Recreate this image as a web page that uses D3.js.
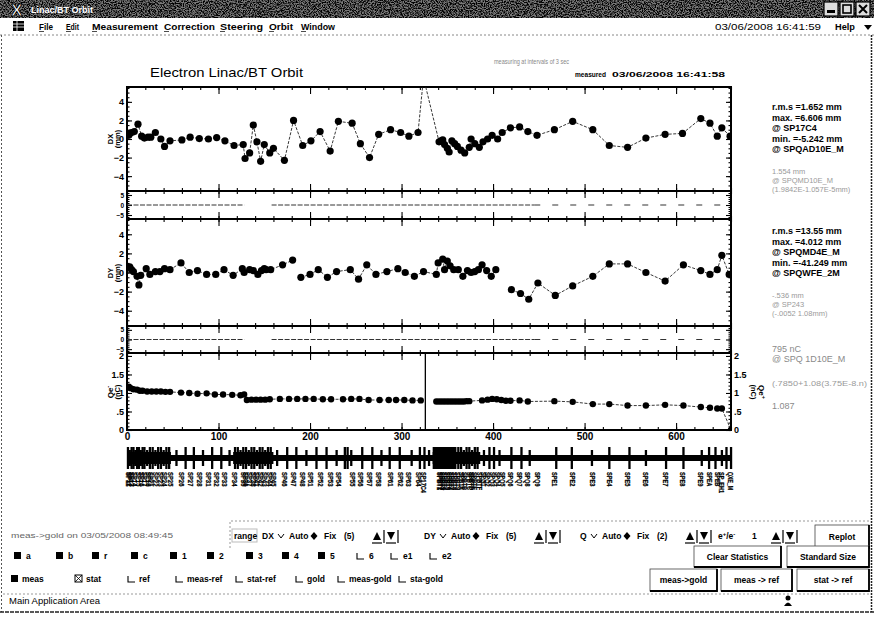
<!DOCTYPE html>
<html>
<head>
<meta charset="utf-8">
<script src="https://cdn.jsdelivr.net/npm/d3@7"></script>
<style>
  body { margin: 0; background: #fff; }
  svg { display: block; font-family: "Liberation Sans", Arial, Helvetica, sans-serif; }
</style>
</head>
<body>
<svg id="app" width="874" height="619"></svg>
<script>
// ---------- measured orbit data (s position along the line [m], value) ----------
const dxPoints = [
  [2,0.4],[3,0.6],[5,0.7],[8,0.8],[12,1.6],[16,0.3],[19,0.1],[23,0.2],[26,0.2],[31,0.7],
  [37,0.0],[41,-0.8],[47,-0.2],[60,-0.1],[69,0.2],[79,0.05],[89,0.0],[98,0.15],[107,-0.2],[117,-0.7],
  [127,-0.6],[129,-2.1],[134,-1.5],[138,1.5],[142,-0.3],[146,-2.4],[150,-0.6],[156,-1.5],[160,-1.0],[172,-2.3],
  [182,2.0],[192,-0.7],[201,-0.2],[211,0.8],[222,-1.3],[231,1.9],[246,1.7],[255,-0.5],[265,-2.0],[275,0.5],
  [288,1.0],[299,0.7],[308,0.3],[318,0.7],[324,6.606],[341,-0.3],[343,-0.2],[345,-0.1],[347,-0.6],[350,-1.0],
  [352,-1.4],[355,-0.2],[358,-0.5],[361,-0.8],[365,-1.2],[369,-1.5],[374,-0.9],[376,0.0],[380,-0.5],[385,-0.9],
  [389,-0.3],[394,0.0],[399,0.4],[405,0.0],[410,0.7],[419,1.2],[429,1.3],[438,0.8],[448,0.4],[467,1.0],
  [487,1.9],[509,1.0],[527,-0.7],[547,-0.9],[567,0.1],[588,0.5],[607,0.6],[627,2.2],[637,1.7],[645,0.3],
  [650,1.2],[659,0.3]
];
const dyPoints = [
  [3,0.6],[5,0.3],[7,0.1],[11,-0.4],[13,-1.3],[15,-0.3],[21,0.4],[25,-0.2],[31,0.1],[36,0.1],
  [41,0.4],[47,0.3],[59,1.0],[68,0.0],[77,0.2],[87,-0.2],[97,-0.2],[106,0.3],[116,-0.3],[126,0.4],
  [128,0.0],[134,0.3],[138,0.2],[143,-0.2],[147,0.2],[150,0.4],[152,0.3],[157,0.3],[170,0.8],[181,1.3],
  [185,null],
  [190,-0.5],[200,-0.2],[209,0.3],[219,-0.5],[229,0.1],[244,0.3],[253,-0.7],[262,0.8],[272,-0.2],[284,0.1],
  [296,0.4],[304,0.0],[314,-0.4],[324,0.1],[338,-0.2],[340,1.0],[345,1.4],[347,0.3],[350,1.2],[353,0.7],
  [357,0.3],[362,0.3],[367,-0.4],[372,0.2],[376,0.0],[380,0.1],[384,0.3],[388,0.8],[393,0.2],[398,-0.4],
  [403,0.3],
  [414,null],
  [420,-1.8],[430,-2.2],[439,-2.8],[449,-1.1],[468,-2.4],[487,-1.4],[509,-0.4],[527,0.9],[547,0.9],[567,0.0],
  [588,-0.9],[608,0.8],[627,0.2],[637,-0.2],[645,0.3],[650,1.8],[658,-0.2]
];
const qPoints = [
  [2,1.17],[4,1.13],[7,1.10],[11,1.09],[14,1.06],[17,1.06],[22,1.04],[27,1.04],[32,1.04],[37,1.04],
  [42,1.03],[47,1.03],[59,1.01],[68,1.00],[77,0.98],[87,0.99],[96,0.96],[105,0.96],[115,0.95],[124,0.94],
  [128,0.96],[131,0.81],[136,0.82],[141,0.82],[146,0.82],[151,0.82],[156,0.83],[167,0.84],[177,0.84],[186,0.84],
  [195,0.84],[204,0.84],[214,0.83],[223,0.83],[236,0.83],[245,0.84],[254,0.84],[264,0.81],[276,0.81],[286,0.81],
  [294,0.81],[303,0.81],[312,0.80],[321,0.80],
  [330,null],
  [338,0.77],[341,0.77],[344,0.77],[347,0.77],[350,0.77],[353,0.77],[356,0.77],[359,0.77],[362,0.77],[365,0.77],
  [368,0.77],[371,0.78],[374,0.78],[388,0.80],[394,0.82],[399,0.84],[404,0.83],[409,0.81],[414,0.79],[419,0.79],
  [429,0.80],[438,0.77],[467,0.78],[487,0.76],[509,0.70],[527,0.70],[547,0.66],[567,0.66],[588,0.68],[608,0.66],
  [627,0.62],[637,0.60],[645,0.58],[650,0.58],[660,0.0]
];
const qSplitS = 326;           // boundary between linac and BT transport line

// ---------- lattice ----------
const magnetS = [1,3,5,7,9,11,13,15,17,19,22,25,28,31,34,37,40,43,46,54,64,73,83,93,103,112,
  118,121,124,127,130,133,136,139,142,145,148,151,154,157,164,175,185,196,207,218,229,238,241,245,
  257,268,278,287,298,311,320,325,330,362,365,368,371,374,377,380,383,390,396,401,407,420,431,440,
  469,486,508,527,549,567,589,608,628,636,643,650,655,660];
const denseSections = [[0,48],[116,160],[334,386]];
const solidSections = [[334,360]];
const monitorNames = ("SP11 SP12 SP13 SP14 SP15 SP16 SP17 SP18 SP21 SP22 SP23 SP24 SP25 SP26 SP27 SP28 " +
  "SP31 SP32 SP33 SP34 SP35 SP36 SP37 SP38 SP41 SP42 SP43 SP44 SP45 SP46 SP47 SP48 SP51 SP52 SP53 " +
  "SP54 SP55 SP56 SP57 SP58 SP61 SP62 SP63 SP64 SP17C4 SPBT1 SPBT2 SPBT3 SPBT4 SPBT5 SPBT6 SPBT7 " +
  "SPBT8 SPBT9 SPBTA SPBTB SPBTC SPBTD SPBTE SPBTF SPQ1 SPQ2 SPQ3 SPQ4 SPQ5 SPQ6 SPQ7 SPQ8 SPQ9 " +
  "SPE1 SPE2 SPE3 SPE4 SPE5 SPE6 SPE7 SPE8 SPE9 SPEA SPEB SP_EH1 QXE_M").split(" ");

// difference strips (zero line drawn in dashes)
const diffDense = [[0,128],[158,445]];
const diffSparse = [[445,656]];

// ---------- tick labels & texts ----------
const sTicks = [0,100,200,300,400,500,600];
const orbitTicks = [-4,-2,0,2,4];
const diffTicks = [-5,0,5];
const qTicks = [0,0.5,1,1.5,2];
const dxStats = ["r.m.s =1.652 mm","max. =6.606 mm","@ SP17C4","min. =-5.242 mm","@ SPQAD10E_M"];
const dxNote  = ["1.554 mm","@ SPQMD10E_M","(1.9842E-1.057E-5mm)"];
const dyStats = ["r.m.s =13.55 mm","max. =4.012 mm","@ SPQMD4E_M","min. =-41.249 mm","@ SPQWFE_2M"];
const dyNote  = ["-.536 mm","@ SP243","(-.0052 1.08mm)"];
const qNote   = ["795 nC","@ SPQ 1D10E_M"];
const qFit    = "(.7850+1.08(3.75E-8.n)";
const qRatio  = "1.087";
const menuItems = [["File",39,14],["Edit",66,13],["Measurement",92,66],["Correction",164,51],
                   ["Steering",220,43],["Orbit",269,24],["Window",301,34]];

// ---------------------------------------------------------------------------
const svg = d3.select("#app");
const W = 874, H = 619;
svg.append("rect").attr("width", W).attr("height", H).attr("fill", "#fff");

const defs = svg.append("defs");
const grain = defs.append("filter").attr("id", "grain").attr("x", 0).attr("y", 0)
  .attr("width", "100%").attr("height", "100%")
  .attr("color-interpolation-filters", "sRGB");
grain.append("feTurbulence").attr("type", "fractalNoise").attr("baseFrequency", "0.85")
  .attr("numOctaves", 2).attr("seed", 7).attr("result", "n");
grain.append("feColorMatrix").attr("type", "matrix")
  .attr("values", "0 0 0 0 0  0 0 0 0 0  0 0 0 0 0  4 0 0 0 -1.55");

function txt(g, x, y, t, o = {}) {
  return g.append("text").attr("x", x).attr("y", y).text(t)
    .attr("font-size", o.size || 8.5)
    .attr("font-weight", o.weight || "bold")
    .attr("fill", o.fill || "#000")
    .attr("text-anchor", o.anchor || "start")
    .attr("font-family", o.family || null);
}

// ---------- window title bar ----------
svg.append("rect").attr("x", 0).attr("y", 0).attr("width", W).attr("height", 18).attr("fill", "#7a7a7a");
svg.append("rect").attr("x", 0).attr("y", 0).attr("width", W).attr("height", 18).attr("filter", "url(#grain)");
svg.append("text").attr("x", 11).attr("y", 16).text("X").attr("font-size", 17).attr("font-weight", "bold")
  .attr("fill", "#fff").attr("stroke", "#000").attr("stroke-width", 0.8);
txt(svg, 31, 13, "Linac/BT Orbit", { size: 9, fill: "#fff" });
[824, 840, 856].forEach((bx, i) => {
  svg.append("rect").attr("x", bx).attr("y", 2).attr("width", 14).attr("height", 14)
    .attr("fill", "#ddd").attr("stroke", "#000").attr("stroke-width", 1.2);
  if (i === 0) svg.append("rect").attr("x", bx + 3).attr("y", 10).attr("width", 8).attr("height", 3).attr("fill", "#000");
  if (i === 1) svg.append("rect").attr("x", bx + 3).attr("y", 5).attr("width", 8).attr("height", 8)
    .attr("fill", "none").attr("stroke", "#000").attr("stroke-width", 1.6);
  if (i === 2) svg.append("path").attr("d", `M${bx+3},5 L${bx+11},13 M${bx+11},5 L${bx+3},13`)
    .attr("stroke", "#000").attr("stroke-width", 2);
});

// ---------- menu bar ----------
const ic = svg.append("g");
ic.append("rect").attr("x", 13).attr("y", 21).attr("width", 11).attr("height", 10).attr("fill", "#000");
[24, 27].forEach(yy => ic.append("line").attr("x1", 13).attr("x2", 24).attr("y1", yy).attr("y2", yy).attr("stroke", "#fff").attr("stroke-width", 0.8));
ic.append("line").attr("x1", 17).attr("x2", 17).attr("y1", 21).attr("y2", 31).attr("stroke", "#fff").attr("stroke-width", 0.8);
menuItems.forEach(([name, mx, mw]) => {
  txt(svg, mx, 30, name, { size: 9.5 }).attr("textLength", mw).attr("lengthAdjust", "spacingAndGlyphs");
  svg.append("line").attr("x1", mx).attr("x2", mx + 5).attr("y1", 31.5).attr("y2", 31.5).attr("stroke", "#000").attr("stroke-width", 0.7);
});
txt(svg, 715, 30, "03/06/2008 16:41:59", { size: 9.5, weight: "normal" }).attr("textLength", 106).attr("lengthAdjust", "spacingAndGlyphs");
txt(svg, 835, 30, "Help", { size: 9.5 }).attr("textLength", 20).attr("lengthAdjust", "spacingAndGlyphs");
svg.append("path").attr("d", "M864,25 L872,25 L868,30 Z").attr("fill", "#000");
svg.append("line").attr("x1", 0).attr("x2", W).attr("y1", 35).attr("y2", 35)
  .attr("stroke", "#888").attr("stroke-dasharray", "2,2");

// window borders
svg.append("line").attr("x1", 1.5).attr("x2", 1.5).attr("y1", 35).attr("y2", 612)
  .attr("stroke", "#555").attr("stroke-dasharray", "2,2");
svg.append("line").attr("x1", 871.5).attr("x2", 871.5).attr("y1", 35).attr("y2", 612)
  .attr("stroke", "#222").attr("stroke-width", 1.5).attr("stroke-dasharray", "2,1");

// ---------- chart header ----------
txt(svg, 150, 77, "Electron Linac/BT  Orbit", { size: 13.5, weight: "normal" })
  .attr("textLength", 153).attr("lengthAdjust", "spacingAndGlyphs");
txt(svg, 494, 64, "measuring at intervals of 3 sec", { size: 7, weight: "normal", fill: "#888" })
  .attr("textLength", 75).attr("lengthAdjust", "spacingAndGlyphs");
txt(svg, 575, 77, "measured", { size: 8 }).attr("textLength", 31).attr("lengthAdjust", "spacingAndGlyphs");
txt(svg, 612, 77, "03/06/2008 16:41:58", { size: 8 }).attr("textLength", 113).attr("lengthAdjust", "spacingAndGlyphs");

// ---------- plots ----------
const X0 = 127, X1 = 731;
const x = d3.scaleLinear().domain([0, 660]).range([X0, X1]);
const sMinor = d3.range(0, 661, 20);

const panels = {
  dx:  { y0: 87,  y1: 191, y: d3.scaleLinear().domain([-5.6, 5.6]).range([191, 87]) },
  d1:  { y0: 191, y1: 219, y: d3.scaleLinear().domain([-7, 7]).range([219, 191]) },
  dy:  { y0: 219, y1: 326, y: d3.scaleLinear().domain([-5.6, 5.6]).range([326, 219]) },
  d2:  { y0: 326, y1: 353, y: d3.scaleLinear().domain([-7, 7]).range([353, 326]) },
  q:   { y0: 353, y1: 430, y: d3.scaleLinear().domain([0, 2.08]).range([430, 353]) }
};

function frame(p, majors, minors, fmt, labelSize, rightLabels) {
  const g = svg.append("g");
  const noLabel = () => "";
  // top & bottom edge ticks, pointing inward
  g.append("g").attr("transform", `translate(0,${p.y0})`)
    .call(d3.axisTop(x).tickValues(sMinor).tickSize(-3).tickFormat(noLabel));
  g.append("g").attr("transform", `translate(0,${p.y0})`)
    .call(d3.axisTop(x).tickValues(sTicks).tickSize(-7).tickFormat(noLabel));
  g.append("g").attr("transform", `translate(0,${p.y1})`)
    .call(d3.axisBottom(x).tickValues(sMinor).tickSize(-3).tickFormat(noLabel));
  g.append("g").attr("transform", `translate(0,${p.y1})`)
    .call(d3.axisBottom(x).tickValues(sTicks).tickSize(-7).tickFormat(noLabel));
  // left & right edge ticks
  g.append("g").attr("transform", `translate(${X0},0)`)
    .call(d3.axisLeft(p.y).tickValues(minors).tickSize(-2.5).tickFormat(noLabel));
  g.append("g").attr("transform", `translate(${X0},0)`).attr("class", "lab")
    .call(d3.axisLeft(p.y).tickValues(majors).tickSize(-5).tickPadding(3).tickFormat(fmt));
  g.append("g").attr("transform", `translate(${X1},0)`)
    .call(d3.axisRight(p.y).tickValues(minors).tickSize(-2.5).tickFormat(noLabel));
  g.append("g").attr("transform", `translate(${X1},0)`).attr("class", rightLabels ? "lab" : "")
    .call(d3.axisRight(p.y).tickValues(majors).tickSize(-5).tickPadding(3)
      .tickFormat(rightLabels ? fmt : noLabel));
  g.selectAll(".domain").remove();
  g.selectAll("line").attr("stroke", "#000").attr("stroke-width", 1.1);
  g.selectAll(".lab text").attr("font-size", labelSize).attr("font-weight", "bold")
    .attr("font-family", "Liberation Sans, Arial, sans-serif").attr("fill", "#000");
  g.append("rect").attr("x", X0).attr("y", p.y0).attr("width", X1 - X0).attr("height", p.y1 - p.y0)
    .attr("fill", "none").attr("stroke", "#000").attr("stroke-width", 2);
  return g;
}

const orbitMinor = d3.range(-5.5, 5.51, 0.5);
frame(panels.dx, orbitTicks, orbitMinor, d3.format("d"), 9);
frame(panels.d1, diffTicks, d3.range(-6, 6.1, 1), d3.format("d"), 6.5);
frame(panels.dy, orbitTicks, orbitMinor, d3.format("d"), 9);
frame(panels.d2, diffTicks, d3.range(-6, 6.1, 1), d3.format("d"), 6.5);
const qFmt = d => d === 0.5 ? ".5" : String(d);
frame(panels.q, qTicks, d3.range(0, 2.01, 0.1), qFmt, 9, true);

// x axis labels under the charge plot
const xa = svg.append("g").attr("transform", `translate(0,${panels.q.y1})`)
  .call(d3.axisBottom(x).tickValues(sTicks).tickSize(0).tickPadding(3));
xa.select(".domain").remove();
xa.selectAll("text").attr("font-size", 10).attr("font-weight", "bold")
  .attr("font-family", "Liberation Sans, Arial, sans-serif").attr("fill", "#000");

// axis titles
function vtitle(tx, cy, t, rot) {
  svg.append("text").attr("transform", `translate(${tx},${cy}) rotate(${rot})`)
    .attr("text-anchor", "middle").attr("font-size", 7.5).attr("font-weight", "bold").text(t);
}
vtitle(113, 139, "DX", -90); vtitle(120, 139, "(mm)", -90);
vtitle(113, 273, "DY", -90); vtitle(120, 273, "(mm)", -90);
svg.append("text").attr("transform", "translate(113,392) rotate(-90)").attr("text-anchor", "middle")
  .attr("font-size", 8).attr("font-weight", "bold").html('Qe<tspan dy="-3" font-size="6">-</tspan>');
vtitle(120, 392, "(nC)", -90);
vtitle(751, 392, "(nC)", 90);
svg.append("text").attr("transform", "translate(759,392) rotate(90)").attr("text-anchor", "middle")
  .attr("font-size", 8).attr("font-weight", "bold").html('Qe<tspan dy="-3" font-size="6">+</tspan>');

// clip paths and data series
function series(key, pts, r) {
  const p = panels[key];
  defs.append("clipPath").attr("id", "clip-" + key).append("rect")
    .attr("x", X0).attr("y", p.y0).attr("width", X1 - X0).attr("height", p.y1 - p.y0);
  const g = svg.append("g").attr("clip-path", `url(#clip-${key})`);
  const line = d3.line().defined(d => d[1] !== null).x(d => x(d[0])).y(d => p.y(d[1]));
  g.append("path").attr("d", line(pts)).attr("fill", "none").attr("stroke", "#222")
    .attr("stroke-width", 0.9).attr("stroke-dasharray", "3,1.5");
  g.selectAll("circle").data(pts.filter(d => d[1] !== null)).join("circle")
    .attr("cx", d => x(d[0])).attr("cy", d => p.y(d[1])).attr("r", r).attr("fill", "#000");
  return g;
}
series("dx", dxPoints, 3.6);
series("dy", dyPoints, 3.6);
const qg = series("q", qPoints, 3.2);
qg.append("line").attr("x1", x(qSplitS)).attr("x2", x(qSplitS))
  .attr("y1", panels.q.y0).attr("y2", panels.q.y1).attr("stroke", "#000").attr("stroke-width", 1.3);

// difference strips: zero lines
["d1", "d2"].forEach(key => {
  const p = panels[key];
  diffDense.forEach(([a, b]) => svg.append("line").attr("x1", x(a)).attr("x2", x(b))
    .attr("y1", p.y(0)).attr("y2", p.y(0)).attr("stroke", "#333").attr("stroke-width", 1)
    .attr("stroke-dasharray", "5,1.5"));
  diffSparse.forEach(([a, b]) => svg.append("line").attr("x1", x(a)).attr("x2", x(b))
    .attr("y1", p.y(0)).attr("y2", p.y(0)).attr("stroke", "#333").attr("stroke-width", 1.2)
    .attr("stroke-dasharray", "6,12"));
});

// ---------- right-hand statistics ----------
function block(lines, y0, step, o) {
  lines.forEach((t, i) => txt(svg, 772, y0 + i * step, t, o));
}
block(dxStats, 110, 10.6, { size: 9 });
block(dxNote, 174, 9.2, { size: 7.5, weight: "normal", fill: "#9a9a9a" });
block(dyStats, 234, 10.6, { size: 9 });
block(dyNote, 298, 9.2, { size: 7.5, weight: "normal", fill: "#9a9a9a" });
block(qNote, 352, 10, { size: 9, weight: "normal", fill: "#8a8a8a" });
txt(svg, 772, 386, qFit, { size: 7.5, weight: "normal", fill: "#9a9a9a" }).attr("textLength", 95).attr("lengthAdjust", "spacingAndGlyphs");
txt(svg, 772, 409, qRatio, { size: 9, weight: "normal", fill: "#8a8a8a" });

// ---------- lattice strip ----------
const LY = 458;
const lat = svg.append("g");
lat.append("rect").attr("x", X0).attr("y", LY - 3).attr("width", X1 - X0).attr("height", 6).attr("fill", "#000");
denseSections.forEach(([a, b]) => lat.append("rect").attr("x", x(a)).attr("y", LY - 6)
  .attr("width", x(b) - x(a)).attr("height", 12).attr("fill", "#000"));
solidSections.forEach(([a, b]) => lat.append("rect").attr("x", x(a)).attr("y", LY - 11)
  .attr("width", x(b) - x(a)).attr("height", 22).attr("fill", "#000"));
lat.selectAll(".mag").data(magnetS).join("rect").attr("class", "mag")
  .attr("x", d => x(d) - 1.1).attr("y", (d, i) => LY - (i % 3 === 1 ? 8 : 11))
  .attr("width", 2.3).attr("height", (d, i) => i % 3 === 1 ? 16 : 22).attr("fill", "#000");
lat.selectAll(".nm").data(dxPoints).join("text").attr("class", "nm")
  .attr("transform", d => `translate(${x(d[0])},472) rotate(90)`)
  .attr("dy", "0.35em").attr("font-size", 7).attr("font-weight", "bold")
  .attr("stroke", "#000").attr("stroke-width", 0.25)
  .text((d, i) => monitorNames[i] || "")
  .attr("textLength", (d, i) => Math.min((monitorNames[i] || "").length * 3.6, 21))
  .attr("lengthAdjust", "spacingAndGlyphs");

// ---------- control panel ----------
const ui = svg.append("g");
ui.append("path").attr("d", "M230,548 V521 H870").attr("fill", "none")
  .attr("stroke", "#999").attr("stroke-dasharray", "2,2");
txt(ui, 11, 538, "meas->gold on 03/05/2008 08:49:45", { size: 8, weight: "normal", fill: "#666" })
  .attr("textLength", 162).attr("lengthAdjust", "spacingAndGlyphs");

function button(x0, y0, x1, y1, t) {
  ui.append("rect").attr("x", x0).attr("y", y0).attr("width", x1 - x0).attr("height", y1 - y0)
    .attr("fill", "#fff").attr("stroke", "#444").attr("stroke-width", 0.8);
  ui.append("path").attr("d", `M${x0},${y1} H${x1} V${y0}`).attr("fill", "none")
    .attr("stroke", "#000").attr("stroke-width", 1.8);
  txt(ui, (x0 + x1) / 2, (y0 + y1) / 2 + 3, t, { size: 8.5, anchor: "middle" });
}
function check(cx, cy, kind) {
  if (kind === "on") {
    ui.append("rect").attr("x", cx).attr("y", cy - 6).attr("width", 7).attr("height", 7).attr("fill", "#000");
  } else if (kind === "x") {
    ui.append("rect").attr("x", cx).attr("y", cy - 6).attr("width", 7).attr("height", 7)
      .attr("fill", "none").attr("stroke", "#000");
    ui.append("path").attr("d", `M${cx},${cy-6} L${cx+7},${cy+1} M${cx+7},${cy-6} L${cx},${cy+1}`)
      .attr("stroke", "#000").attr("stroke-width", 0.8);
  } else {
    ui.append("path").attr("d", `M${cx},${cy-5} V${cy+1} H${cx+7}`).attr("fill", "none")
      .attr("stroke", "#000").attr("stroke-width", 1.1);
  }
}
function tick(cx, cy) {
  ui.append("path").attr("d", `M${cx},${cy-4} L${cx+3},${cy} L${cx+6},${cy-4}`).attr("fill", "none")
    .attr("stroke", "#000").attr("stroke-width", 1);
}
function diamond(cx, cy) {
  ui.append("path").attr("d", `M${cx},${cy-7} L${cx+3.5},${cy-3} L${cx},${cy+1} L${cx-3.5},${cy-3} Z`).attr("fill", "#000");
}
function arrows(cx, cy) {
  ui.append("path").attr("d", `M${cx-4},${cy+1} L${cx+4},${cy+1} L${cx},${cy-7} Z`).attr("fill", "#000");
  ui.append("line").attr("x1", cx - 5).attr("x2", cx + 5).attr("y1", cy + 4).attr("y2", cy + 4).attr("stroke", "#000").attr("stroke-width", 1.2);
  ui.append("line").attr("x1", cx + 7).attr("x2", cx + 7).attr("y1", cy - 9).attr("y2", cy + 4).attr("stroke", "#000").attr("stroke-width", 1.2);
  ui.append("path").attr("d", `M${cx+10},${cy-7} L${cx+18},${cy-7} L${cx+14},${cy+1} Z`).attr("fill", "#000");
  ui.append("line").attr("x1", cx + 9).attr("x2", cx + 19).attr("y1", cy + 4).attr("y2", cy + 4).attr("stroke", "#000").attr("stroke-width", 1.2);
  ui.append("line").attr("x1", cx + 21).attr("x2", cx + 21).attr("y1", cy - 9).attr("y2", cy + 4).attr("stroke", "#000").attr("stroke-width", 1.2);
}
const R1 = 539;
ui.append("rect").attr("x", 232).attr("y", 529).attr("width", 25).attr("height", 13).attr("fill", "none").attr("stroke", "#bbb");
txt(ui, 234, R1, "range", { size: 8.5 });
[["DX", 262, "(5)"], ["DY", 424, "(5)"], ["Q", 580, "(2)"]].forEach(([nm, gx, fx], i) => {
  txt(ui, gx, R1, nm, { size: 8.5 });
  const o = nm === "Q" ? -5 : 0;
  tick(gx + 16 + o, R1 - 1);
  txt(ui, gx + 27 + o, R1, "Auto", { size: 8.5 });
  diamond(gx + 52 + o, R1);
  txt(ui, gx + 62 + o, R1, "Fix", { size: 8.5 });
  txt(ui, gx + 82 + o, R1, fx, { size: 8.5 });
  arrows(gx + 115 + o, R1);
});
ui.append("text").attr("x", 718).attr("y", R1).attr("font-size", 8.5).attr("font-weight", "bold")
  .html('e<tspan dy="-3" font-size="6">+</tspan><tspan dy="3">/e</tspan><tspan dy="-3" font-size="6">-</tspan>');
txt(ui, 752, R1, "1", { size: 8.5 });
arrows(776, R1);
button(815, 525, 869, 548, "Replot");

const R2 = 558;
[["a", 14, "on"], ["b", 56, "on"], ["r", 92, "on"], ["c", 131, "on"], ["1", 170, "on"], ["2", 207, "on"],
 ["3", 246, "on"], ["4", 282, "on"], ["5", 318, "on"], ["6", 357, "off"], ["e1", 391, "off"], ["e2", 430, "off"]]
  .forEach(([t, cx, k]) => { check(cx, R2, k); txt(ui, cx + 12, R2 + 1, t, { size: 8.5 }); });
button(694, 546, 781, 567, "Clear Statistics");
button(787, 546, 869, 567, "Standard Size");

const R3 = 581;
[["meas", 11, "on"], ["stat", 75, "x"], ["ref", 128, "off"], ["meas-ref", 176, "off"], ["stat-ref", 236, "off"],
 ["gold", 296, "off"], ["meas-gold", 338, "off"], ["sta-gold", 399, "off"]]
  .forEach(([t, cx, k]) => { check(cx, R3, k); txt(ui, cx + 11, R3 + 1, t, { size: 8.5 }); });
button(650, 569, 717, 591, "meas->gold");
button(721, 569, 792, 591, "meas -> ref");
button(797, 569, 869, 591, "stat -> ref");

ui.append("line").attr("x1", 3).attr("x2", 870).attr("y1", 594).attr("y2", 594)
  .attr("stroke", "#999").attr("stroke-dasharray", "2,2");
txt(ui, 9, 604, "Main Application Area", { size: 8.5, weight: "normal" })
  .attr("textLength", 91).attr("lengthAdjust", "spacingAndGlyphs");
ui.append("circle").attr("cx", 788).attr("cy", 598).attr("r", 2.5).attr("fill", "#000");
ui.append("path").attr("d", "M784,606 Q788,599 792,606 Z").attr("fill", "#000");
ui.append("line").attr("x1", 0).attr("x2", 874).attr("y1", 612).attr("y2", 612)
  .attr("stroke", "#222").attr("stroke-width", 1.5).attr("stroke-dasharray", "4,1");
</script>
</body>
</html>
